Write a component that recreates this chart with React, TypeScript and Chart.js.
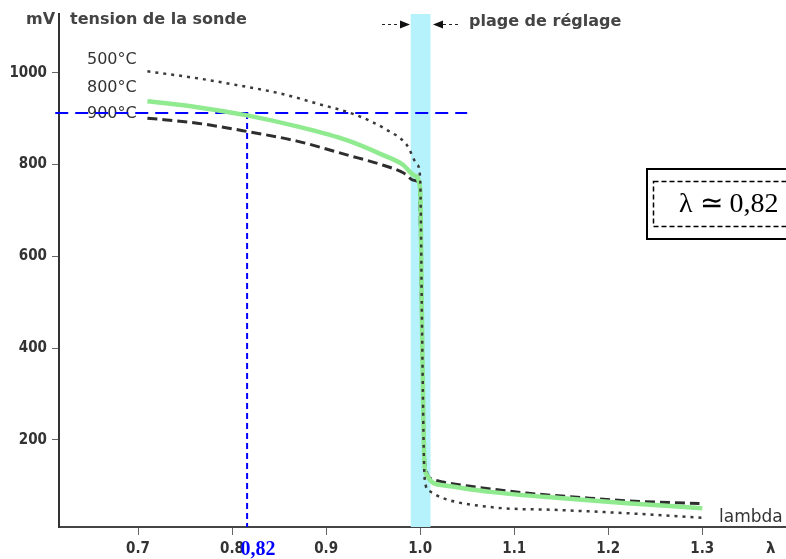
import React, { useEffect, useRef } from "react";
import { Chart, registerables } from "chart.js";

Chart.register(...registerables);

const xTicks = [0.7, 0.8, 0.9, 1.0, 1.1, 1.2, 1.3];
const yTicks = [200, 400, 600, 800, 1000];

const lambda500 = [0.71, 0.763, 0.808, 0.851, 0.89, 0.933, 0.965, 0.986, 0.997, 1.0, 1.002, 1.004, 1.006, 1.01, 1.024, 1.077, 1.148, 1.22, 1.3];
const mv500 = [1003, 988, 972, 955, 933, 907, 875, 842, 799, 771, 450, 160, 100, 88, 73, 53, 47, 40, 30];

const lambda800 = [0.71, 0.763, 0.816, 0.869, 0.922, 0.96, 0.982, 0.994, 1.0, 1.002, 1.004, 1.006, 1.024, 1.077, 1.148, 1.22, 1.3];
const mv800 = [938, 925, 907, 883, 853, 821, 799, 776, 749, 450, 180, 127, 101, 86, 73, 62, 51];

const lambda900 = [0.71, 0.763, 0.816, 0.869, 0.922, 0.96, 0.982, 0.994, 0.999, 1.002, 1.005, 1.012, 1.024, 1.06, 1.113, 1.167, 1.22, 1.297];
const mv900 = [901, 890, 872, 851, 821, 799, 782, 765, 760, 400, 150, 115, 108, 97, 84, 75, 67, 61];

const guideLambda = 0.816;
const guideMv = 912;
const hGuideLambda = [0.612, 1.05];
const bandLambda = [0.99, 1.011];

const seriesLabels = ["500°C", "800°C", "900°C"];

const toPts = (xs: number[], ys: number[]) => xs.map((x, i) => ({ x, y: ys[i] }));

const overlay = {
  id: "overlay",
  beforeDatasetsDraw(chart: any) {
    const { ctx, chartArea, scales } = chart;
    const x = scales.x;
    ctx.save();
    ctx.fillStyle = "#b6f2fb";
    const x0 = x.getPixelForValue(bandLambda[0]);
    const x1 = x.getPixelForValue(bandLambda[1]);
    ctx.fillRect(x0, chartArea.top, x1 - x0, chartArea.bottom - chartArea.top);
    ctx.fillStyle = "#333";
    ctx.font = "16px 'DejaVu Sans'";
    ctx.textBaseline = "middle";
    ctx.textAlign = "left";
    ctx.fillText(seriesLabels[0], 87, 60);
    ctx.fillText(seriesLabels[1], 87, 88);
    ctx.fillText(seriesLabels[2], 87, 114);
    ctx.restore();
  },
  afterDraw(chart: any) {
    const { ctx } = chart;
    ctx.save();
    ctx.fillStyle = "#444";
    ctx.textBaseline = "middle";
    ctx.textAlign = "left";
    ctx.font = "bold 16px 'DejaVu Sans'";
    ctx.fillText("mV", 26, 20);
    ctx.fillText("tension de la sonde", 70, 20);
    ctx.fillText("plage de réglage", 469, 22);
    ctx.fillStyle = "#333";
    ctx.font = "17px 'DejaVu Sans'";
    ctx.fillText("lambda", 719, 518);
    ctx.font = "bold 15px 'DejaVu Sans'";
    ctx.fillText("λ", 766, 549);
    // arrows
    ctx.strokeStyle = "#222";
    ctx.fillStyle = "#111";
    ctx.lineWidth = 1;
    ctx.setLineDash([3, 3]);
    ctx.beginPath();
    ctx.moveTo(382, 24.5);
    ctx.lineTo(400, 24.5);
    ctx.moveTo(443, 24.5);
    ctx.lineTo(460, 24.5);
    ctx.stroke();
    ctx.setLineDash([]);
    ctx.beginPath();
    ctx.moveTo(400, 20.5);
    ctx.lineTo(410, 24.5);
    ctx.lineTo(400, 28.5);
    ctx.closePath();
    ctx.fill();
    ctx.beginPath();
    ctx.moveTo(443, 20.5);
    ctx.lineTo(433, 24.5);
    ctx.lineTo(443, 28.5);
    ctx.closePath();
    ctx.fill();
    // blue value label
    ctx.fillStyle = "#0000ff";
    ctx.font = "bold 20px 'Liberation Serif'";
    ctx.textAlign = "center";
    ctx.fillText("0,82", 258, 550);
    // box
    ctx.strokeStyle = "#000";
    ctx.lineWidth = 2;
    ctx.strokeRect(647, 169, 160, 70);
    ctx.lineWidth = 1.5;
    ctx.setLineDash([5, 3]);
    ctx.strokeRect(653.5, 181.5, 160, 45);
    ctx.setLineDash([]);
    ctx.fillStyle = "#000";
    ctx.font = "28px 'Liberation Serif'";
    ctx.textAlign = "left";
    ctx.textBaseline = "alphabetic";
    ctx.fillText("λ ≃ 0,82", 679, 212);
    ctx.restore();
  },
};

export default function App() {
  const ref = useRef<HTMLCanvasElement | null>(null);
  useEffect(() => {
    document.body.style.margin = "0";
    if (!ref.current) return;
    const tickFont = { family: "'DejaVu Sans Condensed', 'DejaVu Sans'", size: 15, weight: "bold" as const };
    const chart = new Chart(ref.current, {
      type: "line",
      data: {
        datasets: [
          {
            label: seriesLabels[0],
            data: toPts(lambda500, mv500),
            borderColor: "#3a3a3a",
            borderWidth: 2.5,
            borderDash: [3, 5],
            pointRadius: 0,
            cubicInterpolationMode: "monotone",
          },
          {
            label: seriesLabels[1],
            data: toPts(lambda800, mv800),
            borderColor: "#90ea90",
            borderWidth: 4.5,
            pointRadius: 0,
            cubicInterpolationMode: "monotone",
          },
          {
            label: seriesLabels[2],
            data: toPts(lambda900, mv900),
            borderColor: "#2e2e2e",
            borderWidth: 3,
            borderDash: [10, 5],
            pointRadius: 0,
            cubicInterpolationMode: "monotone",
          },
          {
            label: "h",
            data: toPts(hGuideLambda, [guideMv, guideMv]),
            borderColor: "#0000ff",
            borderWidth: 2,
            borderDash: [13, 7],
            pointRadius: 0,
            clip: false as any,
          },
          {
            label: "v",
            data: toPts([guideLambda, guideLambda], [guideMv, 10]),
            borderColor: "#0000ff",
            borderWidth: 2,
            borderDash: [6, 4],
            pointRadius: 0,
          },
        ],
      },
      options: {
        animation: false,
        responsive: false,
        devicePixelRatio: 1,
        layout: { padding: { top: 10, left: 0, right: 0, bottom: 0 } },
        plugins: { legend: { display: false }, tooltip: { enabled: false } },
        scales: {
          x: {
            type: "linear",
            min: 0.616,
            max: 1.389,
            afterBuildTicks: (axis: any) => {
              axis.ticks = xTicks.map((v) => ({ value: v }));
            },
            afterFit: (s: any) => {
              s.height = 32;
            },
            ticks: {
              color: "#333",
              font: tickFont,
              padding: 5,
              maxRotation: 0,
              autoSkip: false,
              callback: (v: any) => Number(v).toFixed(1),
            },
            grid: { drawOnChartArea: false, drawTicks: true, tickLength: 8, color: "#666" },
            border: { display: true, color: "#444", width: 2 },
          },
          y: {
            type: "linear",
            min: 10,
            max: 1128,
            afterBuildTicks: (axis: any) => {
              axis.ticks = yTicks.map((v) => ({ value: v }));
            },
            afterFit: (s: any) => {
              s.width = 59;
            },
            ticks: {
              color: "#333",
              font: tickFont,
              padding: 5,
              autoSkip: false,
              callback: (v: any) => String(v),
            },
            grid: { drawOnChartArea: false, drawTicks: true, tickLength: 7, color: "#666" },
            border: { display: true, color: "#333", width: 2 },
          },
        },
      },
      plugins: [overlay],
    });
    return () => chart.destroy();
  }, []);
  return (
    <div style={{ position: "absolute", left: 0, top: 0, width: 786, height: 559 }}>
      <canvas ref={ref} width={786} height={559} style={{ display: "block", width: 786, height: 559 }} />
    </div>
  );
}
